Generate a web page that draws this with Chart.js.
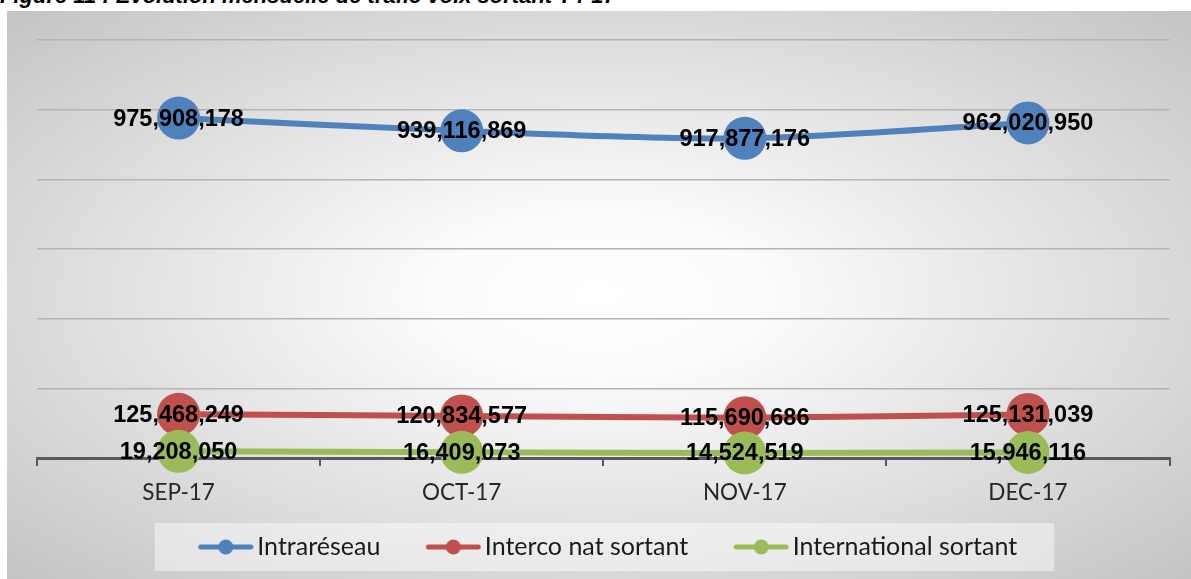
<!DOCTYPE html>
<html>
<head>
<meta charset="utf-8">
<script src="https://cdn.jsdelivr.net/npm/chart.js@4.4.1/dist/chart.umd.min.js"></script>
<style>
    html, body { margin: 0; padding: 0; background: #fff; overflow: hidden; }
    body { width: 1191px; height: 579px; position: relative; }
    .title {
        position: absolute; left: 0; top: -15px;
        font: italic bold 22px "Liberation Sans", Arial, sans-serif;
        line-height: 22px; color: #000; white-space: nowrap;
    }
    .box {
        position: absolute; left: 7px; top: 11px; width: 1184px; height: 568px;
        background: radial-gradient(ellipse farthest-corner at 50% 50%, #ffffff 0%, #fbfbfb 20%, #c4c4c4 100%);
    }
    canvas { display: block; }
</style>
</head>
<body>
<div class="title">Figure 11 : Evolution mensuelle de trafic voix sortant T4-17</div>
<div class="box"><canvas id="myChart" width="1184" height="568"></canvas></div>
<script>
// données du graphique
const months = ['SEP-17', 'OCT-17', 'NOV-17', 'DEC-17'];
const seriesNames = ['Intraréseau', 'Interco nat sortant', 'International sortant'];
const intrareseau = [975908178, 939116869, 917877176, 962020950];
const intercoNat = [125468249, 120834577, 115690686, 125131039];
const international = [19208050, 16409073, 14524519, 15946116];
const seriesColors = ['#4F81BD', '#C0504D', '#9BBB59'];
const yMax = 1200000000;
const yStep = 200000000;

const fmt = new Intl.NumberFormat('en-US');

// marqueur de légende : trait + rond (trait de 44 à 100 dans l'image)
function legendMarker(color) {
    const c = document.createElement('canvas');
    c.width = 100; c.height = 24;
    const g = c.getContext('2d');
    g.strokeStyle = color;
    g.lineWidth = 5;
    g.lineCap = 'round';
    g.beginPath();
    g.moveTo(47, 12);
    g.lineTo(97, 12);
    g.stroke();
    g.fillStyle = color;
    g.beginPath();
    g.arc(72, 12, 7.5, 0, Math.PI * 2);
    g.fill();
    return c;
}
const markers = seriesColors.map(legendMarker);

// légende un peu décalée à gauche + fond
const legendBackground = {
    id: 'legendBackground',
    afterLayout(chart) {
        const lg = chart.legend;
        if (!lg) return;
        lg.left -= 15.5;
        lg.right -= 15.5;
    },
    beforeDraw(chart) {
        const lg = chart.legend;
        if (!lg || !lg.legendHitBoxes.length) return;
        const boxes = lg.legendHitBoxes;
        const left = Math.min(...boxes.map(b => b.left)) - 8;
        const right = Math.max(...boxes.map(b => b.left + b.width)) + 37;
        const cy = lg.top + lg.height / 2;
        const ctx = chart.ctx;
        ctx.save();
        ctx.fillStyle = 'rgba(255,255,255,0.45)';
        ctx.fillRect(left, cy - 24, right - left, 48);
        ctx.restore();
    }
};

// étiquettes de valeurs au centre des points
const valueLabels = {
    id: 'valueLabels',
    afterDatasetsDraw(chart) {
        const ctx = chart.ctx;
        ctx.save();
        ctx.font = 'bold 23.5px "Liberation Sans"';
        ctx.fillStyle = '#000';
        ctx.textAlign = 'center';
        ctx.textBaseline = 'middle';
        chart.data.datasets.forEach((ds, i) => {
            const meta = chart.getDatasetMeta(i);
            meta.data.forEach((pt, j) => {
                ctx.fillText(fmt.format(ds.data[j]), pt.x, pt.y + 1);
            });
        });
        ctx.restore();
    }
};

function makeSet(label, data, color, order) {
    return {
        label: label,
        data: data,
        borderColor: color,
        backgroundColor: color,
        borderWidth: 6,
        pointRadius: 21.5,
        pointHoverRadius: 21.5,
        pointBorderWidth: 0,
        pointBackgroundColor: color,
        tension: 0.3,
        clip: false,
        order: order
    };
}

const ctx = document.getElementById('myChart').getContext('2d');
new Chart(ctx, {
    type: 'line',
    data: {
        labels: months,
        datasets: [
            makeSet(seriesNames[0], intrareseau, seriesColors[0], 3),
            makeSet(seriesNames[1], intercoNat, seriesColors[1], 2),
            makeSet(seriesNames[2], international, seriesColors[2], 1)
        ]
    },
    options: {
        responsive: false,
        animation: false,
        layout: { padding: { top: 29, left: 30, right: 17, bottom: 9.5 } },
        scales: {
            x: {
                offset: true,
                grid: {
                    offset: true,
                    drawOnChartArea: false,
                    drawTicks: true,
                    tickLength: 8,
                    color: '#595959',
                    lineWidth: 2
                },
                border: { display: true, color: '#595959', width: 3 },
                ticks: {
                    padding: 13,
                    color: '#262626',
                    font: { family: 'Lato', size: 22.5 }
                },
                afterFit(scale) { scale.height += 5.5; }
            },
            y: {
                min: 0,
                max: yMax,
                ticks: { display: false, stepSize: yStep },
                border: { display: false },
                grid: { drawTicks: false, color: '#b4b4b4', lineWidth: 1.5 }
            }
        },
        plugins: {
            tooltip: { enabled: false },
            legend: {
                position: 'bottom',
                labels: {
                    usePointStyle: true,
                    pointStyleWidth: 82,
                    padding: 10,
                    color: '#1a1a1a',
                    font: { family: 'Lato', size: 25 },
                    generateLabels: () => seriesNames.map((name, i) => ({
                        text: name,
                        pointStyle: markers[i],
                        fillStyle: seriesColors[i],
                        strokeStyle: seriesColors[i],
                        lineWidth: 0,
                        hidden: false,
                        datasetIndex: i,
                        fontColor: '#1a1a1a'
                    }))
                }
            }
        }
    },
    plugins: [legendBackground, valueLabels]
});
</script>
</body>
</html>
